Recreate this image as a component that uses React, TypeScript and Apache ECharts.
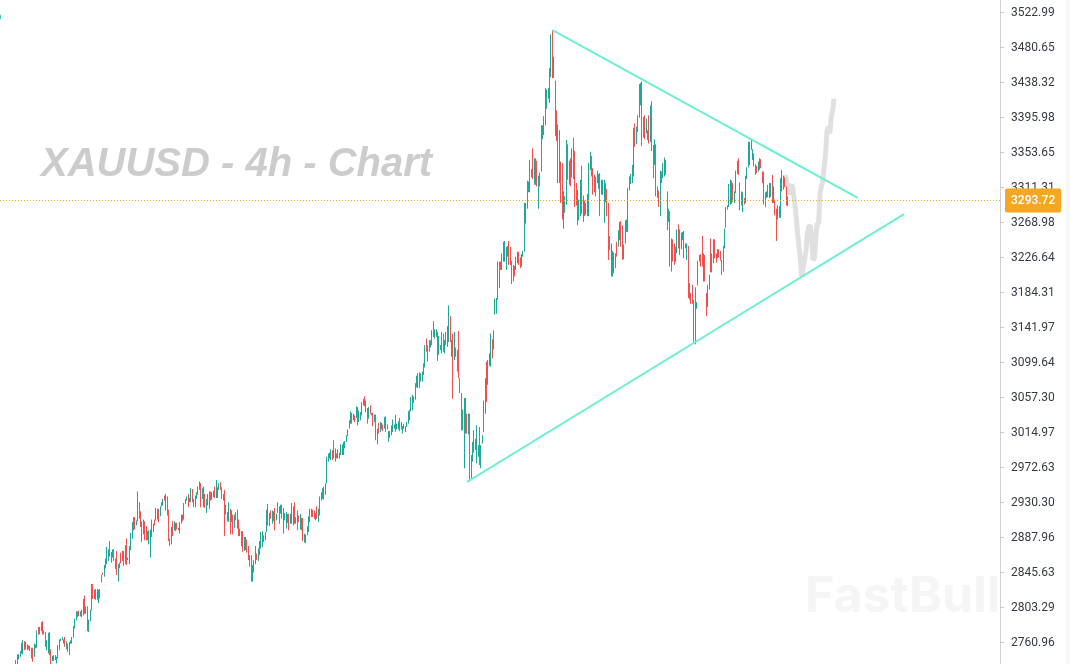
// App.tsx
import React, { useEffect, useRef } from "react";
import * as echarts from "echarts";

// [open, close, low, high] left to right
const leadIn = [
  [2734,2739,2734,2739],[2736,2745,2734,2746],[2741,2745,2740,2746],[2743,2750,2743,2750],[2760,2749,2747,2760],
  [2746,2763,2746,2763],[2762,2752,2751,2762],[2753,2760,2752,2761],[2758,2752,2751,2758],[2757,2752,2752,2757],
  [2752,2756,2750,2756],[2754,2741,2741,2754],[2754,2737,2737,2754],[2745,2759,2743,2759],[2758,2754,2753,2758],
  [2754,2775,2754,2775],[2779,2771,2770,2779],[2772,2777,2770,2779],[2776,2785,2774,2785],[2786,2772,2770,2786],
  [2775,2771,2770,2775],[2772,2755,2755,2773],[2756,2763,2751,2763],[2750,2772,2747,2772],[2773,2746,2745,2773],
  [2752,2736,2734,2752],[2738,2743,2738,2744],[2738,2744,2738,2745],[2745,2739,2739,2745],[2737,2742,2735,2743],
  [2743,2757,2741,2757],[2752,2764,2751,2764],[2762,2765,2762,2765],[2763,2767,2763,2767],[2764,2759,2759,2764],
  [2767,2757,2755,2767],[2756,2762,2752,2762],[2759,2749,2749,2759],[2750,2760,2745,2761],[2759,2763,2759,2763],
  [2760,2767,2759,2767],[2767,2780,2766,2780],[2780,2789,2777,2789],[2788,2798,2787,2798],[2798,2792,2791,2798],
  [2799,2793,2792,2799],[2792,2797,2792,2798],[2792,2800,2791,2800],[2794,2813,2793,2813],[2817,2798,2795,2817],
  [2796,2804,2795,2804],[2804,2776,2774,2804],[2776,2788,2773,2788],[2787,2800,2786,2800],[2800,2831,2799,2831],
  [2831,2813,2813,2831],[2823,2813,2813,2824],[2812,2824,2812,2825],[2814,2822,2812,2825],[2812,2822,2808,2824],
  [2814,2824,2814,2825],[2834,2841,2833,2842],[2845,2842,2842,2845],[2842,2853,2840,2854],[2850,2862,2850,2862],
  [2858,2875,2855,2876],[2862,2872,2859,2873],[2883,2866,2864,2883],[2860,2868,2857,2870],[2866,2873,2863,2873],
  [2873,2861,2859,2873],[2862,2850,2849,2862],[2871,2844,2842,2871],[2844,2853,2834,2855],[2850,2857,2850,2857],
  [2869,2858,2856,2869],[2870,2860,2859,2871],[2858,2868,2853,2871],[2860,2876,2855,2878],[2885,2855,2854,2886],
  [2863,2860,2860,2863],[2860,2873,2855,2877],[2874,2892,2872,2893],[2888,2903,2886,2906],[2897,2910,2896,2912],
  [2912,2900,2897,2912],[2902,2908,2902,2908],[2908,2943,2907,2943],[2930,2915,2910,2930],[2919,2900,2900,2919],
  [2907,2882,2882,2907],[2892,2905,2891,2909],[2907,2889,2884,2907],[2901,2889,2884,2901],[2895,2884,2884,2895],
  [2885,2895,2879,2896],[2866,2892,2863,2897],[2890,2903,2888,2909],[2896,2904,2894,2904],[2909,2902,2902,2909],
  [2908,2922,2908,2923],[2910,2921,2909,2922],[2921,2906,2906,2922],[2914,2925,2913,2925],[2925,2930,2925,2930],
  [2927,2933,2926,2934],[2938,2932,2932,2938],[2920,2938,2920,2940],[2937,2915,2914,2937],[2921,2883,2883,2921],
  [2886,2877,2877,2886],[2880,2897,2879,2900],[2907,2890,2889,2907],[2896,2907,2896,2907],[2897,2904,2895,2905],
  [2905,2897,2897,2905],[2899,2897,2896,2899],[2893,2905,2892,2906],[2904,2915,2904,2915],[2915,2907,2907,2915],
  [2910,2928,2909,2929],[2928,2933,2928,2934],[2933,2937,2932,2937],[2938,2926,2924,2940],[2930,2933,2930,2935],
  [2930,2945,2930,2947],[2945,2930,2930,2946],[2934,2926,2924,2934],[2926,2938,2924,2938],[2934,2942,2934,2942],
  [2940,2949,2939,2949],[2946,2955,2945,2955],[2953,2926,2924,2953],[2934,2947,2934,2947],[2932,2946,2924,2949],
  [2940,2926,2923,2940],[2925,2934,2917,2934],[2930,2940,2926,2940],[2925,2943,2922,2943],[2943,2933,2932,2943],
  [2936,2941,2933,2942],[2944,2937,2936,2944],[2949,2935,2935,2949],[2936,2952,2935,2957],[2937,2948,2935,2948],
  [2945,2953,2945,2953],[2954,2946,2945,2954],[2948,2934,2934,2948],[2934,2938,2932,2940],[2945,2925,2889,2945],
  [2925,2918,2915,2927],[2908,2917,2907,2918],[2914,2930,2906,2930],[2922,2905,2891,2922],[2908,2919,2906,2920],
  [2915,2900,2891,2915],[2902,2914,2899,2915],[2909,2917,2908,2918],[2921,2900,2898,2921],[2909,2893,2889,2909],
  [2892,2897,2889,2898],[2895,2881,2877,2895],[2892,2875,2870,2895],[2874,2888,2871,2888],[2875,2887,2872,2888],
  [2885,2875,2869,2885],[2877,2862,2860,2877],[2866,2855,2852,2866],[2866,2837,2834,2866],[2837,2850,2834,2854],
  [2850,2860,2845,2860],[2857,2875,2855,2877],[2868,2862,2860,2868],[2862,2871,2859,2874],[2866,2880,2866,2883],
];

const climbToApril = [
  [2875,2893,2874,2894],[2878,2893,2876,2895],[2890,2883,2882,2890],[2884,2892,2884,2894],[2894,2921,2894,2921],
  [2928,2905,2902,2928],[2904,2916,2901,2917],[2920,2912,2910,2920],[2909,2918,2904,2920],[2918,2910,2907,2919],
  [2922,2905,2896,2923],[2908,2915,2908,2916],[2918,2929,2917,2930],[2908,2922,2904,2925],[2918,2926,2916,2927],
  [2927,2915,2910,2927],[2922,2898,2892,2923],[2910,2915,2908,2917],[2900,2915,2898,2918],[2914,2907,2905,2916],
  [2915,2900,2896,2916],[2905,2913,2904,2916],[2905,2921,2904,2929],[2910,2925,2902,2925],[2930,2908,2904,2930],
  [2906,2911,2904,2912],[2920,2905,2896,2920],[2914,2908,2906,2914],[2900,2915,2897,2916],[2911,2898,2896,2911],
  [2911,2884,2883,2911],[2883,2890,2881,2892],[2883,2890,2881,2891],[2890,2900,2890,2901],[2896,2913,2894,2913],
  [2908,2921,2906,2922],[2915,2920,2912,2922],[2921,2914,2912,2921],[2920,2912,2910,2920],[2910,2916,2908,2917],
  [2925,2911,2910,2925],[2910,2920,2906,2922],[2915,2935,2914,2937],[2935,2932,2932,2942],[2935,2945,2934,2947],
  [2935,2948,2933,2949],[2940,2952,2939,2953],[2953,2985,2953,2985],[2980,2987,2979,2989],[2989,2983,2983,2990],
  [2984,2992,2981,2994],[2992,2983,2981,2993],[3005,2985,2983,3005],[2980,2990,2979,2995],[2988,2983,2983,2989],
  [2984,2992,2983,2994],[2989,2985,2983,2990],[2987,2996,2987,3000],[2988,2998,2987,3000],[2990,3000,2987,3003],
  [2998,3002,2995,3004],[3003,3011,3003,3011],[3010,3018,3010,3018],[3020,3029,3019,3029],[3025,3039,3025,3040],
  [3038,3028,3025,3038],[3031,3036,3029,3037],[3035,3030,3027,3035],[3032,3044,3032,3046],[3044,3028,3023,3045],
  [3028,3040,3027,3041],[3030,3037,3029,3039],[3035,3049,3035,3051],[3048,3052,3047,3055],[3058,3047,3046,3058],
  [3052,3041,3039,3053],[3044,3028,3025,3044],[3031,3042,3031,3045],[3047,3038,3037,3047],[3038,3036,3035,3038],
  [3038,3023,3022,3038],[3029,3035,3027,3036],[3035,3018,3005,3036],[3006,3016,3000,3019],[3020,3014,3013,3026],
  [3015,3023,3015,3027],[3024,3020,3018,3026],[3022,3018,3016,3024],[3020,3030,3019,3033],[3030,3017,3015,3034],
  [3023,3019,3018,3024],[3010,3015,3003,3016],[3012,3015,3008,3016],[3012,3021,3011,3023],[3016,3028,3015,3030],
  [3020,3023,3019,3024],[3030,3017,3015,3036],[3018,3024,3018,3025],[3020,3026,3018,3028],[3028,3017,3016,3032],
  [3025,3019,3018,3027],[3015,3021,3013,3022],[3020,3024,3019,3025],[3016,3022,3015,3022],[3022,3026,3021,3027],
  [3026,3038,3025,3040],[3032,3040,3029,3042],[3040,3055,3040,3057],[3042,3058,3041,3060],[3052,3056,3050,3058],
  [3055,3072,3054,3074],[3070,3081,3069,3083],[3083,3070,3068,3086],[3085,3070,3068,3087],[3078,3085,3076,3086],
  [3079,3088,3076,3088],[3086,3096,3084,3098],[3095,3120,3093,3120],[3128,3112,3112,3128],[3120,3100,3100,3120],
  [3112,3122,3112,3126],[3118,3124,3117,3126],[3122,3137,3120,3138],[3149,3130,3130,3149],[3130,3137,3128,3139],
  [3131,3138,3130,3139],[3136,3103,3101,3136],[3112,3130,3108,3131],[3116,3120,3114,3120],[3136,3112,3110,3136],
  [3134,3112,3112,3134],[3112,3124,3110,3126],[3120,3133,3120,3136],[3118,3140,3118,3143],[3125,3140,3124,3168],
  [3150,3127,3124,3155],[3112,3125,3106,3126],[3132,3090,3055,3134],[3105,3125,3102,3136],[3117,3107,3106,3117],
  [3114,3092,3088,3114],[3112,3080,3080,3137],[3080,3062,3062,3080],[3062,3018,3017,3062],[3018,3041,3017,3042],
  [3020,3055,2971,3056],[3055,3028,3013,3056],[3037,3015,3013,3037],[3016,3030,3012,3037],[3037,2990,2957,3037],
  [2962,2985,2959,2987],[2985,3000,2979,3003],[2995,3010,2990,3017],[2994,3004,2993,3007],[2990,3015,2977,3023],
  [2990,2998,2985,2999],[3010,2982,2975,3021],[2985,2998,2971,2999],[3002,3010,3001,3011],[3015,3050,3015,3053],
  [3045,3065,3037,3080],[3100,3052,3051,3100],[3073,3100,3072,3102],[3100,3108,3095,3110],[3095,3132,3094,3134],
  [3127,3108,3104,3127],[3115,3137,3115,3138],[3158,3175,3157,3176],
];

const runToPeak = [
  [3160,3176,3158,3177],[3175,3220,3175,3221],[3220,3190,3189,3221],[3215,3212,3211,3221],[3212,3228,3211,3231],
  [3245,3222,3221,3245],[3222,3240,3221,3246],[3215,3235,3211,3239],[3228,3237,3227,3240],[3246,3225,3217,3246],
  [3239,3222,3217,3239],[3222,3195,3194,3222],[3217,3200,3197,3217],[3216,3204,3203,3216],[3212,3225,3211,3227],
  [3220,3231,3219,3233],[3231,3220,3217,3233],[3226,3215,3213,3226],[3217,3228,3215,3230],[3228,3234,3227,3234],
  [3234,3292,3233,3292],[3268,3285,3267,3292],[3285,3318,3285,3319],[3308,3316,3305,3318],[3307,3333,3305,3344],
  [3325,3330,3323,3333],[3358,3325,3321,3358],[3325,3335,3314,3346],[3335,3322,3314,3346],[3343,3320,3312,3343],
  [3310,3322,3285,3325],[3315,3328,3312,3329],[3330,3370,3330,3386],[3370,3383,3369,3386],[3376,3392,3374,3397],
  [3390,3428,3386,3431],[3408,3426,3406,3429],[3418,3427,3418,3431],[3415,3445,3413,3455],[3445,3495,3444,3496],
  [3500,3443,3443,3501],[3468,3445,3443,3469],
];

const triangleSwings = [
  [3440,3375,3373,3440],[3403,3377,3367,3404],[3317,3385,3316,3387],[3318,3378,3316,3380],[3342,3292,3292,3342],
  [3340,3272,3272,3340],[3280,3305,3261,3306],[3285,3295,3280,3300],[3292,3365,3290,3368],[3363,3322,3320,3363],
  [3322,3340,3314,3343],[3340,3318,3312,3346],[3325,3345,3323,3358],[3355,3325,3321,3371],[3355,3290,3287,3355],
  [3315,3292,3289,3316],[3290,3305,3265,3308],[3285,3293,3271,3296],[3290,3310,3276,3320],[3337,3285,3279,3337],
  [3280,3300,3269,3301],[3295,3280,3276,3295],[3282,3290,3278,3292],[3280,3301,3276,3303],[3300,3338,3276,3340],
  [3335,3350,3332,3354],[3345,3325,3324,3349],[3328,3305,3302,3334],[3326,3306,3305,3326],[3320,3305,3300,3324],
  [3318,3326,3316,3331],[3310,3325,3309,3327],[3327,3290,3276,3328],[3305,3320,3302,3320],[3308,3318,3302,3320],
  [3292,3315,3268,3320],[3315,3295,3293,3316],[3308,3282,3276,3309],[3292,3235,3223,3292],[3252,3236,3235,3252],
  [3225,3240,3203,3243],[3220,3232,3203,3234],[3228,3215,3207,3232],[3215,3228,3213,3231],[3245,3228,3227,3245],
  [3240,3258,3239,3259],[3248,3262,3247,3269],[3270,3245,3239,3270],[3265,3235,3223,3265],[3230,3240,3224,3242],
  [3245,3268,3243,3271],[3260,3270,3257,3272],[3258,3308,3257,3310],[3308,3322,3307,3324],[3315,3325,3315,3327],
  [3320,3335,3316,3338],[3325,3375,3324,3383],[3382,3362,3360,3388],[3364,3380,3363,3384],[3378,3393,3378,3398],
  [3395,3420,3395,3436],[3412,3430,3410,3437],[3438,3370,3361,3439],[3395,3375,3371,3396],[3395,3372,3369,3398],
  [3378,3390,3376,3394],[3378,3370,3368,3380],[3398,3372,3364,3398],[3370,3408,3366,3410],[3410,3370,3355,3415],
  [3360,3325,3322,3362],[3340,3360,3338,3369],[3360,3300,3300,3363],[3310,3300,3298,3312],[3305,3292,3287,3307],
  [3305,3325,3276,3331],[3318,3328,3316,3330],[3325,3335,3322,3340],[3330,3345,3324,3347],[3344,3328,3326,3344],
  [3305,3265,3259,3306],[3270,3283,3269,3285],
];

const lastLeg = [
  [3282,3220,3215,3282],[3222,3245,3209,3249],[3245,3225,3221,3248],[3240,3225,3217,3243],[3225,3235,3221,3239],
  [3235,3260,3231,3260],[3260,3240,3237,3266],[3260,3235,3229,3260],[3240,3255,3236,3256],[3250,3255,3247,3257],
  [3258,3228,3225,3258],[3243,3238,3237,3243],[3232,3243,3223,3243],[3240,3192,3177,3240],[3195,3178,3175,3195],
  [3180,3172,3170,3183],[3190,3175,3170,3193],[3175,3125,3124,3175],[3125,3175,3121,3190],[3165,3172,3164,3172],
  [3192,3220,3192,3222],[3222,3228,3221,3229],[3226,3220,3215,3230],[3228,3218,3215,3252],[3198,3215,3197,3231],
  [3215,3200,3197,3229],[3182,3160,3155,3183],[3170,3185,3166,3193],[3188,3203,3187,3205],[3248,3208,3208,3249],
  [3208,3228,3208,3231],[3220,3248,3219,3248],[3248,3226,3225,3248],[3230,3222,3220,3231],[3225,3235,3225,3236],
  [3234,3228,3226,3236],[3232,3224,3222,3234],[3222,3208,3205,3223],[3212,3238,3209,3240],[3238,3258,3237,3261],
  [3262,3285,3262,3287],[3285,3288,3284,3289],[3290,3310,3287,3315],[3295,3318,3290,3320],[3318,3296,3291,3319],
  [3315,3300,3293,3316],[3295,3305,3292,3306],[3305,3328,3304,3331],[3328,3340,3327,3343],[3345,3328,3326,3346],
  [3316,3295,3283,3317],[3305,3292,3289,3306],[3290,3305,3281,3305],[3298,3292,3290,3298],[3295,3322,3292,3325],
  [3322,3333,3321,3335],[3335,3365,3335,3366],[3340,3365,3338,3366],[3367,3358,3356,3368],[3345,3356,3344,3357],
  [3350,3340,3336,3352],[3328,3335,3326,3339],[3336,3330,3328,3337],[3335,3340,3330,3342],[3332,3345,3332,3346],
  [3344,3336,3334,3345],[3330,3318,3316,3330],[3330,3295,3290,3330],[3305,3295,3287,3305],[3300,3305,3298,3306],
  [3300,3312,3299,3314],[3300,3312,3298,3316],[3302,3312,3299,3316],[3320,3296,3292,3326],[3294,3308,3292,3312],
  [3296,3280,3277,3296],[3285,3260,3246,3285],[3275,3286,3272,3289],[3286,3277,3274,3288],[3276,3315,3274,3322],
  [3310,3327,3306,3332],[3325,3310,3308,3325],[3322,3313,3311,3323],[3312,3295,3289,3312],[3296,3293.72,3288,3300],
];

// grey projected path drawn by the author
const forecastValues = [
  3326,3320,3312,3302,3312,3314,3304,3291,3275,3255,3239,3223,3203,3215,3223,3235,3255,3263,
  3265,3251,3223,3225,3251,3267,3267,3304,3312,3320,3336,3352,3380,3384,3376,3396,3404,3418,
];

const tickValues = [
  3522.99,3480.65,3438.32,3395.98,3353.65,3311.31,3268.98,3226.64,3184.31,3141.97,
  3099.64,3057.3,3014.97,2972.63,2930.3,2887.96,2845.63,2803.29,2760.96,
];

const lastPrice = 3293.72;
// where the dotted price line sits on the axis in the picture
const lastPriceLevel = 3295.03;
const axisMin = 2734.3;
const axisMax = 3537.5;

// slot numbers on the category axis
const slotCount = 714;
const offscreenSlots = 11;
const forecastStart = 560;
const upperTrend = [[394, 3501.2], [612, 3298]];
const lowerTrend = [[333, 2954.5], [645, 3278.6]];

const categories = Array.from({ length: slotCount }, (_, i) => String(i));
const blanks = Array.from({ length: offscreenSlots }, () => ["-", "-", "-", "-"]);
const candles = [...blanks, ...leadIn, ...climbToApril, ...runToPeak, ...triangleSwings, ...lastLeg];

const TEAL = "#1ea897";
const RED = "#f05050";
const ORANGE = "#f5a623";
const TREND = "#6eeed2";

const App: React.FC = () => {
  const chartRef = useRef<HTMLDivElement>(null);

  useEffect(() => {
    if (!chartRef.current) return;
    const chart = echarts.init(chartRef.current, null, { renderer: "svg" });

    const trendSeries = (data: number[][]) => ({
      type: "line",
      data,
      symbol: "none",
      silent: true,
      z: 4,
      lineStyle: { color: TREND, width: 2 },
    });

    chart.setOption({
      animation: false,
      grid: { left: 0, right: 70, top: 0, bottom: 0 },
      xAxis: {
        type: "category",
        data: categories,
        show: false,
      },
      yAxis: {
        type: "value",
        position: "right",
        min: axisMin,
        max: axisMax,
        splitLine: { show: false },
        axisLine: { show: true, lineStyle: { color: "#d0d0d0", width: 1 } },
        axisTick: {
          show: true,
          length: 4,
          customValues: tickValues,
          lineStyle: { color: "#c8c8c8" },
        },
        axisLabel: {
          margin: 11,
          customValues: tickValues,
          showMinLabel: true,
          showMaxLabel: true,
          color: "#363a45",
          fontFamily: "Roboto",
          fontSize: 12,
          formatter: (v: number) => v.toFixed(2),
        },
      },
      graphic: [
        {
          type: "rect",
          silent: true,
          shape: { x: 1066, y: 0, width: 4, height: 664 },
          style: { fill: "#f7f7f7" },
        },
        {
          type: "circle",
          silent: true,
          shape: { cx: -4, cy: 17, r: 5 },
          style: { fill: "#2ac6b2" },
        },
        {
          type: "text",
          silent: true,
          x: 41,
          y: 162,
          z: 0,
          style: {
            text: "XAUUSD - 4h - Chart",
            fill: "#cccccc",
            font: "italic bold 40px 'Liberation Sans'",
            textVerticalAlign: "middle",
          },
        },
        {
          type: "text",
          silent: true,
          x: 805,
          y: 594,
          z: 10,
          style: {
            text: "FastBull",
            fill: "#f5f5f5",
            font: "bold 50px Inter",
            textVerticalAlign: "middle",
            shadowColor: "rgba(0,0,0,0.06)",
            shadowBlur: 6,
            shadowOffsetY: 3,
          },
        },
      ],
      series: [
        {
          type: "line",
          data: forecastValues.map((v, i) => [forecastStart + i, v]),
          symbol: "none",
          silent: true,
          z: 1,
          lineStyle: { color: "#e0e0e0", width: 5 },
        },
        {
          type: "candlestick",
          data: candles,
          barWidth: 1,
          z: 2,
          itemStyle: {
            color: TEAL,
            color0: RED,
            borderColor: TEAL,
            borderColor0: RED,
            borderWidth: 1,
          },
          markLine: {
            silent: true,
            symbol: "none",
            animation: false,
            lineStyle: { color: ORANGE, type: [1, 2], width: 1, opacity: 1 },
            label: {
              position: "end",
              distance: 5,
              formatter: () => lastPrice.toFixed(2),
              color: "#ffffff",
              backgroundColor: ORANGE,
              fontFamily: "Roboto",
              fontSize: 12,
              fontWeight: 500,
              padding: [6, 6],
              borderRadius: 2,
            },
            data: [{ yAxis: lastPriceLevel }],
          },
        },
        trendSeries(upperTrend),
        trendSeries(lowerTrend),
      ],
    });

    return () => chart.dispose();
  }, []);

  return <div ref={chartRef} style={{ position: "fixed", left: 0, top: 0, width: 1070, height: 664 }} />;
};

export default App;
